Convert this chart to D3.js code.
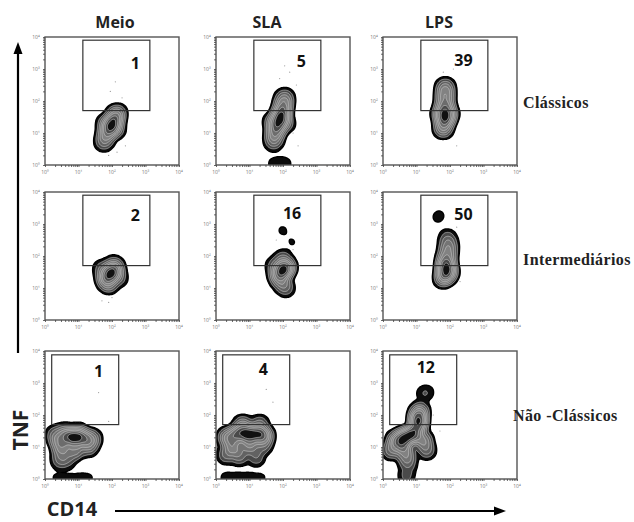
<!DOCTYPE html>
<html>
<head>
<meta charset="utf-8">
<script src="https://cdn.jsdelivr.net/npm/d3@7"></script>
<style>
  body { margin: 0; background: #fff; }
</style>
</head>
<body>
<div id="chart"></div>
<script>
// column / row categories
const conditions = ["Meio", "SLA", "LPS"];
const subsets = ["Clássicos", "Intermediários", "Não -Clássicos"];
const tickLabels = ["10\u2070", "10\u00b9", "10\u00b2", "10\u00b3", "10\u2074"];

// % TNF+ inside the gate, [row][col]
const percents = [[1, 5, 39], [2, 16, 50], [1, 4, 12]];

// gate limits in decades (log10 CD14 / log10 TNF), one per row
const gateCD14 = [[1.13, 3.13], [1.13, 3.13], [0.2, 2.2]];
const gateTNF = [[1.7, 3.9], [1.7, 3.9], [1.7, 3.88]];

// populations: [log CD14, log TNF, weight]
const popMeioClass = [[1.76,0.72,1.2],[1.84,0.95,2],[1.95,1.15,3],[2.03,1.32,3],[2.1,1.5,2],[2.16,1.62,1.2],[1.8,1.3,1],[2.15,1.1,0.8]];
const popSlaClass = [[1.72,0.72,1],[1.75,0.95,2],[1.83,1.2,3],[1.92,1.47,4],[1.98,1.7,2.5],[2.02,1.92,1.5],[2.05,2.1,1.2],
  [1.68,1.35,1],[2.1,1.3,0.8],
  [1.72,0.04,0.22],[1.95,0.04,0.22],[2.12,0.04,0.14]];
const popLpsClass = [[1.8,1.15,2],[1.85,1.45,4],[1.85,1.75,3],[1.85,2.05,2],[1.86,2.3,1.5],[1.86,2.45,1],[1.7,1.6,1],[2.0,1.6,1]];
const popMeioInter = [[1.8,1.3,2],[1.95,1.45,4],[2.1,1.55,2],[1.9,1.12,1.5],[2.05,1.72,1.2],[1.7,1.6,0.8],[2.2,1.3,0.8]];
const popSlaInter = [[1.85,1.4,2],[2.0,1.56,4],[2.12,1.65,2],[1.95,1.2,1.5],[2.0,1.9,1.1],[2.08,1.0,0.9],[1.75,1.7,0.8],
  [1.99,2.8,0.2],[2.27,2.43,0.175]];
const popLpsInter = [[1.88,1.45,3],[1.88,1.7,4],[1.9,1.95,2],[1.95,2.2,1.5],[1.95,2.42,1],[1.92,2.62,0.4],[1.8,1.3,1.5],[2.0,1.5,1],
  [1.62,3.18,0.15],[1.7,3.3,0.13]];
const popMeioNC = [[0.4,1.2,2],[0.7,1.3,3],[0.9,1.28,4],[1.15,1.27,3],[1.4,1.25,2],[0.5,0.95,2.5],[0.9,0.9,2],[1.3,1.0,1.5],
  [0.45,0.6,1.2],[0.7,0.62,0.8],[1.0,1.45,1.5],[0.6,1.45,1.5],[0.3,1.4,1],
  [0.35,0.04,0.22],[0.7,0.04,0.22],[1.05,0.04,0.22],[1.35,0.04,0.18]];
const popSlaNC = [[0.35,1.3,2],[0.65,1.4,3],[0.96,1.4,4],[1.25,1.4,3],[1.45,1.35,2],[0.5,1.0,2],[1.0,1.05,1.8],[1.4,1.05,1],
  [0.8,1.68,1.5],[1.3,1.7,1],[0.7,0.72,1],[1.2,0.68,0.7],[0.3,0.75,0.8],
  [0.3,0.04,0.2],[0.65,0.04,0.2],[1.0,0.04,0.2],[1.35,0.04,0.16]];
const popLpsNC = [[0.4,1.2,2],[0.65,1.31,3],[0.9,1.4,3],[0.6,1.0,2],[1.2,1.2,1.5],[0.7,0.7,1.2],[1.3,0.9,0.8],[1.05,1.7,2.5],
  [1.05,1.92,2.2],[1.1,2.12,1.2],[1.2,2.66,0.22],[1.34,2.72,0.16],[0.75,0.45,0.5],[0.7,0.08,0.4],[0.25,0.9,1]];

const populations = [
  [popMeioClass, popSlaClass, popLpsClass],
  [popMeioInter, popSlaInter, popLpsInter],
  [popMeioNC, popSlaNC, popLpsNC]
];

// scattered single events outside the contours
const dotsMeioClass = [[2.1,2.6],[1.95,2.3],[2.3,2.1],[1.9,0.3],[2.15,0.4],[2.4,0.6]];
const dotsSlaClass = [[1.9,2.7],[2.2,2.9],[2.4,2.5],[2.05,3.1],[2.3,1.0],[2.45,0.6]];
const dotsLpsClass = [[1.8,2.9],[2.1,3.0],[2.2,0.6],[1.7,0.9]];
const dotsMeioInter = [[1.7,0.6],[1.9,0.55],[2.0,0.7]];
const dotsSlaInter = [[1.8,2.5],[2.3,2.2]];
const dotsLpsInter = [[2.3,1.2],[2.2,2.9]];
const dotsMeioNC = [[1.6,2.7],[1.9,1.8]];
const dotsSlaNC = [[1.5,2.8],[1.7,2.4]];
const dotsLpsNC = [[1.5,2.0],[1.7,1.5]];
const dots = [
  [dotsMeioClass, dotsSlaClass, dotsLpsClass],
  [dotsMeioInter, dotsSlaInter, dotsLpsInter],
  [dotsMeioNC, dotsSlaNC, dotsLpsNC]
];

// layout
const W = 634, H = 522;
const colX = [45, 216, 383], rowY = [37, 192, 351];
const pw = 134, ph = 128;
const titleX = [115, 267, 439];
const rowLabel = [{x: 523, y: 102}, {x: 523, y: 259}, {x: 513, y: 415}];
const pctAt = [[[2.7,3.2],[2.55,3.25],[2.4,3.28]], [[2.7,3.28],[2.27,3.34],[2.4,3.32]], [[1.6,3.36],[1.41,3.44],[1.28,3.5]]];
const levelFrac = [0.025, 0.07, 0.14, 0.23, 0.34, 0.48, 0.64, 0.82];
const levelFill = ["#0c0c0c", "#4a4a4a", "#626262", "#747474", "#828282", "#6c6c6c", "#4a4a4a", "#111"];
const sans = "'Open Sans', sans-serif";
const serif = "'Liberation Serif', 'Times New Roman', serif";

const svg = d3.select("#chart").append("svg")
  .attr("width", W).attr("height", H);

const xs = d3.scaleLog().domain([1, 1e4]).range([0, pw]);
const ys = d3.scaleLog().domain([1, 1e4]).range([ph, 0]);
const X = v => xs(Math.pow(10, v));
const Y = v => ys(Math.pow(10, v));

// log ticks, 1..9 per decade
const minorTicks = xs.ticks();
const majorTicks = [1, 10, 100, 1000, 10000];

function drawPanel(r, c) {
  const g = svg.append("g").attr("transform", "translate(" + colX[c] + "," + rowY[r] + ")");
  const id = "clip" + r + c;
  g.append("clipPath").attr("id", id).append("rect").attr("width", pw).attr("height", ph);

  // contours
  const dens = d3.contourDensity()
    .x(d => X(d[0])).y(d => Y(d[1])).weight(d => d[2])
    .size([pw, ph]).cellSize(1).bandwidth(4.8)
    .thresholds(v => { const m = d3.max(v); return levelFrac.map(f => f * m); });
  const cs = dens(populations[r][c]);
  g.append("g").attr("clip-path", "url(#" + id + ")")
    .selectAll("path").data(cs).join("path")
    .attr("d", d3.geoPath())
    .attr("fill", (d, i) => levelFill[i])
    .attr("stroke", (d, i) => i === 0 ? "#000" : "#d0d0d0")
    .attr("stroke-width", (d, i) => i === 0 ? 1.4 : 0.6);

  g.append("g").selectAll("circle").data(dots[r][c]).join("circle")
    .attr("cx", d => X(d[0])).attr("cy", d => Y(d[1])).attr("r", 0.6).attr("fill", "#999");

  // gate
  g.append("rect")
    .attr("x", X(gateCD14[r][0])).attr("y", Y(gateTNF[r][1]))
    .attr("width", X(gateCD14[r][1]) - X(gateCD14[r][0]))
    .attr("height", Y(gateTNF[r][0]) - Y(gateTNF[r][1]))
    .attr("fill", "none").attr("stroke", "#333").attr("stroke-width", 1.2);

  // frame
  g.append("rect").attr("width", pw).attr("height", ph)
    .attr("fill", "none").attr("stroke", "#555").attr("stroke-width", 1.4);

  // axes
  const ax = g.append("g").attr("transform", "translate(0," + ph + ")")
    .call(d3.axisBottom(xs).tickValues(minorTicks).tickSize(2).tickFormat(""));
  const ay = g.append("g")
    .call(d3.axisLeft(ys).tickValues(minorTicks).tickSize(2).tickFormat(""));
  [ax, ay].forEach(a => {
    a.select(".domain").remove();
    a.selectAll("line").attr("stroke", "#444").attr("stroke-width", 0.8);
  });
  g.append("g").selectAll("text").data(majorTicks).join("text")
    .attr("x", d => xs(d)).attr("y", ph + 9)
    .attr("text-anchor", "middle").style("font-family", sans).attr("font-size", 5).attr("fill", "#777")
    .text((d, i) => tickLabels[i]);
  g.append("g").selectAll("text").data(majorTicks).join("text")
    .attr("x", -9).attr("y", d => ys(d) + 2)
    .attr("text-anchor", "middle").style("font-family", sans).attr("font-size", 5).attr("fill", "#777")
    .text((d, i) => tickLabels[i]);

  // percentage
  g.append("text")
    .attr("x", X(pctAt[r][c][0])).attr("y", Y(pctAt[r][c][1]))
    .attr("text-anchor", "middle").attr("dominant-baseline", "central")
    .style("font-family", sans).attr("font-size", 16).attr("font-weight", "bold").attr("fill", "#111")
    .text(percents[r][c]);
}

for (let r = 0; r < 3; r++) for (let c = 0; c < 3; c++) drawPanel(r, c);

// column titles
svg.append("g").selectAll("text").data(conditions).join("text")
  .attr("x", (d, i) => titleX[i]).attr("y", 22)
  .attr("text-anchor", "middle").attr("dominant-baseline", "central")
  .style("font-family", sans).attr("font-size", 16).attr("font-weight", "bold").attr("fill", "#222")
  .text(d => d);

// row labels
svg.append("g").selectAll("text").data(subsets).join("text")
  .attr("x", (d, i) => rowLabel[i].x).attr("y", (d, i) => rowLabel[i].y)
  .attr("dominant-baseline", "central")
  .style("font-family", serif)
  .attr("font-size", 16).attr("font-weight", "bold").attr("letter-spacing", 0.4).attr("fill", "#222")
  .text(d => d);

// axis arrows
svg.append("line").attr("x1", 18).attr("x2", 18).attr("y1", 353).attr("y2", 52)
  .attr("stroke", "#000").attr("stroke-width", 2.2);
svg.append("path").attr("d", "M18,42L13.5,54L22.5,54Z").attr("fill", "#000");
svg.append("line").attr("x1", 115).attr("x2", 496).attr("y1", 511).attr("y2", 511)
  .attr("stroke", "#000").attr("stroke-width", 2.2);
svg.append("path").attr("d", "M506,511L494,506.5L494,515.5Z").attr("fill", "#000");

svg.append("text")
  .attr("transform", "translate(20,430) rotate(-90)")
  .attr("text-anchor", "middle").attr("dominant-baseline", "central")
  .style("font-family", sans).attr("font-size", 21).attr("font-weight", "bold").attr("fill", "#222")
  .text("TNF");
svg.append("text")
  .attr("x", 72).attr("y", 508)
  .attr("text-anchor", "middle").attr("dominant-baseline", "central")
  .style("font-family", sans).attr("font-size", 20).attr("font-weight", "bold").attr("fill", "#222")
  .text("CD14");
</script>
</body>
</html>
